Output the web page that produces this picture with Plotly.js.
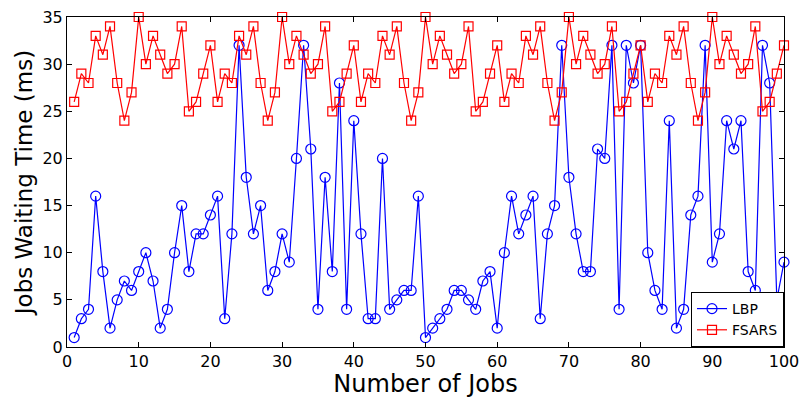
<!DOCTYPE html>
<html>
<head>
<meta charset="utf-8">
<script src="https://cdn.plot.ly/plotly-3.0.1.min.js"></script>
<style>html,body{margin:0;padding:0;background:#fff;}#chart{width:801px;height:398px;}</style>
</head>
<body>
<div id="chart"></div>
<script>
var jobs = [];
for (var i = 1; i <= 100; i++) jobs.push(i);

var lbp = [1,3,4,16,8,2,5,7,6,8, 10,7,2,4,10,15,8,12,12,14,
           16,3,12,32,18,12,15,6,8,12, 9,20,32,21,4,18,8,28,4,24,
           12,3,3,20,4,5,6,6,16,1, 2,3,4,6,6,5,4,7,8,2,
           10,16,12,14,16,3,12,15,32,18, 12,8,8,21,20,32,4,32,28,32,
           10,6,4,24,2,4,14,16,32,9, 12,24,21,24,8,6,32,28,5,9];

var fsars = [26,29,28,33,31,34,28,24,27,35, 30,33,31,29,30,34,25,26,29,32,
             26,29,28,33,31,34,28,24,27,35, 30,33,31,29,30,34,25,26,29,32,
             26,29,28,33,31,34,28,24,27,35, 30,33,31,29,30,34,25,26,29,32,
             26,29,28,33,31,34,28,24,27,35, 30,33,31,29,30,34,25,26,29,32,
             26,29,28,33,31,34,28,24,27,35, 30,33,31,29,30,34,25,26,29,32];

var seriesNames = ['LBP', 'FSARS'];
var xTicks = [0,10,20,30,40,50,60,70,80,90,100];
var yTicks = [0,5,10,15,20,25,30,35];

var FONT = 'DejaVu Sans, Arial, sans-serif';

var traces = [
  {x: jobs, y: lbp, name: seriesNames[0], type: 'scatter', mode: 'lines+markers',
   cliponaxis: false,
   line: {color: '#0000FF', width: 1.2},
   marker: {symbol: 'circle-open', size: 10, color: '#0000FF', line: {width: 1.2}}},
  {x: jobs, y: fsars, name: seriesNames[1], type: 'scatter', mode: 'lines+markers',
   cliponaxis: false,
   line: {color: '#FF0000', width: 1.2},
   marker: {symbol: 'square-open', size: 9, color: '#FF0000', line: {width: 1.2}}}
];

var axisCommon = {
  showline: true, linecolor: '#000', linewidth: 1, mirror: 'ticks',
  ticks: 'inside', ticklen: 5, tickcolor: '#000', tickwidth: 1,
  showgrid: false, zeroline: false, ticklabeloverflow: 'allow',
  tickfont: {family: FONT, size: 16, color: '#000'}
};

var layout = {
  width: 801, height: 398,
  margin: {l: 67, r: 17, t: 17, b: 51},
  paper_bgcolor: '#fff', plot_bgcolor: '#fff',
  showlegend: true,
  legend: {x: 1, y: 0, xanchor: 'right', yanchor: 'bottom',
           bgcolor: '#fff', bordercolor: '#000', borderwidth: 1,
           font: {family: FONT, size: 14, color: '#000'},
           tracegroupgap: 0, itemwidth: 30},
  xaxis: Object.assign({}, axisCommon, {
    range: [0, 100], tickvals: xTicks, ticktext: xTicks.map(String),
    title: {text: 'Number of Jobs', standoff: 2,
            font: {family: FONT, size: 24, color: '#000'}}
  }),
  yaxis: Object.assign({}, axisCommon, {
    range: [0, 35], tickvals: yTicks, ticktext: yTicks.map(String),
    title: {text: 'Jobs Waiting Time (ms)', standoff: 3,
            font: {family: FONT, size: 23, color: '#000'}}
  })
};

Plotly.newPlot('chart', traces, layout, {displayModeBar: false, staticPlot: true});
</script>
</body>
</html>
